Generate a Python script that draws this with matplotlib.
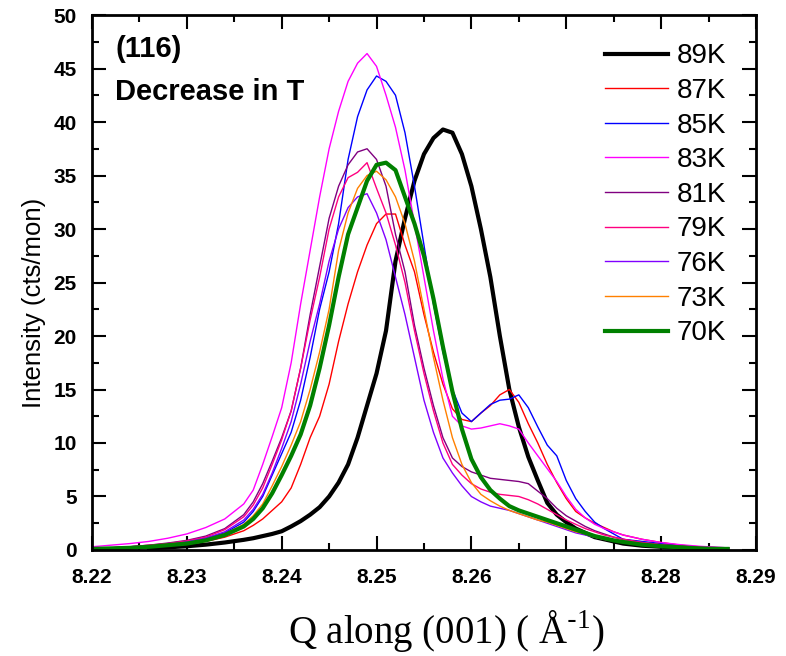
import numpy as np
import matplotlib
matplotlib.use('Agg')
import matplotlib.pyplot as plt
from matplotlib import font_manager
from matplotlib.ticker import MultipleLocator, FormatStrFormatter

# Q grid (Å^-1), shared by all scans
q = [8.220, 8.222, 8.224, 8.226, 8.228, 8.230, 8.232, 8.234,
     8.236, 8.237, 8.238, 8.239, 8.240, 8.241, 8.242, 8.243, 8.244,
     8.245, 8.246, 8.247, 8.248, 8.249, 8.250, 8.251, 8.252, 8.253,
     8.254, 8.255, 8.256, 8.257, 8.258, 8.259, 8.260, 8.261, 8.262,
     8.263, 8.264, 8.265, 8.266, 8.267, 8.268, 8.269, 8.270, 8.271,
     8.272, 8.273, 8.274, 8.275, 8.276, 8.278, 8.280, 8.282, 8.284,
     8.286, 8.287]

nan = np.nan
i_89K = [nan, nan, nan, 0.15, 0.25, 0.35, 0.5, 0.7,
         0.95, 1.1, 1.3, 1.5, 1.75, 2.2, 2.7, 3.3, 4.0,
         5.0, 6.3, 8.0, 10.5, 13.5, 16.5, 20.5, 27.0, 31.0,
         34.5, 37.0, 38.5, 39.3, 39.0, 37.0, 34.0, 30.0, 25.5,
         20.0, 15.0, 11.5, 8.7, 6.5, 4.4, 3.3, 2.6, 2.0,
         1.6, 1.2, 1.0, 0.8, 0.6, 0.4, 0.3, 0.2, 0.15,
         0.1, 0.08]
i_87K = [0.1, 0.15, 0.2, 0.3, 0.4, 0.55, 0.8, 1.2,
         1.8, 2.3, 2.9, 3.7, 4.5, 5.8, 8.0, 10.5, 12.5,
         15.5, 19.5, 23.0, 26.0, 28.5, 30.5, 31.4, 31.4, 28.5,
         26.0, 22.0, 18.5, 15.5, 13.2, 12.2, 12.0, 12.8, 13.5,
         14.5, 15.0, 13.8, 11.8, 10.0, 8.0, 6.3, 4.8, 3.6,
         3.0, 2.5, 2.1, 1.7, 1.4, 1.0, 0.7, 0.45, 0.3,
         0.2, 0.15]
i_85K = [0.15, 0.2, 0.3, 0.4, 0.6, 0.8, 1.1, 1.6,
         2.6, 3.6, 5.0, 7.0, 9.0, 11.0, 14.0, 18.0, 22.5,
         26.0, 30.5, 36.5, 40.5, 43.0, 44.3, 43.8, 42.5, 39.0,
         34.0, 28.5, 23.0, 18.5, 15.0, 12.8, 12.0, 12.8, 13.6,
         14.0, 14.1, 14.5, 13.3, 11.5, 9.8, 8.8, 6.5, 4.8,
         3.6, 2.6, 2.0, 1.5, 1.0, 0.8, 0.6, 0.4, 0.25,
         0.15, 0.1]
i_83K = [0.3, 0.45, 0.6, 0.8, 1.1, 1.5, 2.1, 2.9,
         4.3, 5.6, 8.0, 10.6, 13.3, 17.5, 23.0, 28.0, 33.0,
         37.5, 41.0, 43.8, 45.5, 46.4, 45.2, 42.5, 39.5, 35.5,
         30.5, 25.5, 20.5, 16.0, 12.5, 11.6, 11.3, 11.4, 11.6,
         11.8, 11.6, 11.3, 10.0, 8.8, 7.6, 6.4, 5.0, 3.8,
         3.0, 2.4, 2.0, 1.7, 1.4, 1.0, 0.7, 0.5, 0.35,
         0.25, 0.2]
i_81K = [0.15, 0.2, 0.3, 0.45, 0.65, 0.9, 1.3, 2.0,
         3.3, 4.5, 6.2, 8.3, 10.5, 13.0, 17.0, 22.0, 26.5,
         31.0, 34.0, 36.0, 37.2, 37.5, 36.5, 34.0, 29.5, 26.0,
         21.0, 17.0, 13.5, 10.5, 8.6, 7.8, 7.3, 7.0, 6.7,
         6.6, 6.5, 6.4, 6.2, 5.5, 4.8, 3.9, 3.2, 2.7,
         2.2, 1.8, 1.5, 1.2, 1.0, 0.7, 0.5, 0.35, 0.25,
         0.15, 0.1]
i_79K = [0.15, 0.2, 0.3, 0.45, 0.6, 0.85, 1.2, 1.9,
         3.1, 4.2, 5.8, 8.0, 10.3, 13.0, 17.0, 21.5, 25.5,
         30.0, 33.0, 34.8, 35.3, 36.2, 33.8, 31.5, 28.5, 25.0,
         20.5, 16.5, 13.0, 10.0, 8.0, 7.0, 6.2, 5.7, 5.4,
         5.2, 5.1, 5.0, 4.7, 4.3, 3.8, 3.3, 2.8, 2.4,
         2.0, 1.7, 1.4, 1.2, 1.0, 0.7, 0.5, 0.35, 0.25,
         0.15, 0.1]
i_76K = [0.1, 0.15, 0.25, 0.35, 0.5, 0.75, 1.1, 1.7,
         2.8, 3.8, 5.2, 7.2, 9.5, 12.0, 15.5, 19.5, 23.0,
         27.0, 30.0, 32.0, 33.0, 33.3, 31.5, 29.0, 25.5, 22.0,
         18.0, 14.0, 11.0, 8.6, 7.2, 6.0, 5.0, 4.5, 4.1,
         3.9, 3.7, 3.4, 3.1, 2.8, 2.5, 2.2, 1.9, 1.6,
         1.4, 1.2, 1.0, 0.85, 0.7, 0.5, 0.35, 0.25, 0.2,
         0.1, 0.1]
i_73K = [0.1, 0.15, 0.2, 0.3, 0.45, 0.65, 0.95, 1.5,
         2.4, 3.2, 4.3, 6.0, 7.8, 9.8, 12.0, 15.0, 18.5,
         22.5, 28.0, 31.5, 33.8, 35.0, 35.4, 34.6, 33.0, 30.5,
         27.0, 22.5, 18.0, 14.0, 10.5, 8.0, 6.3, 5.2, 4.6,
         4.1, 3.7, 3.4, 3.1, 2.8, 2.6, 2.3, 2.0, 1.7,
         1.5, 1.2, 1.0, 0.85, 0.7, 0.5, 0.35, 0.25, 0.15,
         0.1, 0.1]
i_70K = [0.1, 0.15, 0.2, 0.3, 0.45, 0.6, 0.9, 1.4,
         2.2, 2.9, 3.9, 5.3, 7.0, 8.8, 10.8, 13.5, 17.0,
         21.0, 25.5, 29.5, 32.0, 34.5, 36.0, 36.2, 35.5, 33.0,
         30.5, 27.5, 23.5, 19.0, 14.8, 11.3, 8.5, 6.8, 5.6,
         4.8, 4.1, 3.7, 3.4, 3.1, 2.8, 2.5, 2.2, 1.9,
         1.6, 1.3, 1.1, 0.9, 0.75, 0.5, 0.35, 0.25, 0.15,
         0.1, 0.1]

labels = ['89K', '87K', '85K', '83K', '81K', '79K', '76K', '73K', '70K']
series = [i_89K, i_87K, i_85K, i_83K, i_81K, i_79K, i_76K, i_73K, i_70K]
colors = ['black', '#FF0000', '#0000FF', '#FF00FF', '#800080',
          '#FF0080', '#8000FF', '#FF8000', '#008000']
widths = [3, 1, 1, 1, 1, 1, 1, 1, 3]

# narrow bold face for the x tick labels if it is installed
names = {f.name for f in font_manager.fontManager.ttflist}
narrow = 'Liberation Sans Narrow' if 'Liberation Sans Narrow' in names else 'Liberation Sans'

fig = plt.figure(figsize=(7.86, 6.56), dpi=100)
ax = fig.add_axes([0.117, 0.1616, 0.8448, 0.8155])

for lab, y, c, w in zip(labels, series, colors, widths):
    ax.plot(q, y, color=c, lw=w, label=lab)

ax.set_xlim(8.22, 8.29)
ax.set_ylim(0, 50)
ax.xaxis.set_major_locator(MultipleLocator(0.01))
ax.xaxis.set_minor_locator(MultipleLocator(0.005))
ax.yaxis.set_major_locator(MultipleLocator(5))
ax.yaxis.set_minor_locator(MultipleLocator(2.5))
ax.xaxis.set_major_formatter(FormatStrFormatter('%.2f'))
ax.tick_params(which='both', direction='in', top=True, right=True, width=1.5)
ax.tick_params(which='major', length=10)
ax.tick_params(which='minor', length=5)
ax.tick_params(axis='x', which='major', pad=13)
ax.tick_params(axis='y', which='major', pad=11)
for lbl in ax.get_xticklabels():
    lbl.set_fontfamily(narrow)
    lbl.set_fontweight('bold')
    lbl.set_fontsize(15)
for lbl in ax.get_yticklabels():
    lbl.set_fontfamily('Liberation Sans')
    lbl.set_fontweight('bold')
    lbl.set_fontsize(15)
for s in ax.spines.values():
    s.set_linewidth(2)

ax.set_ylabel('Intensity (cts/mon)', fontsize=18.5, family='Liberation Sans')
ax.yaxis.set_label_coords(-0.069, 0.462)
ax.set_xlabel(r'Q along (001) ( Å$^{\mathregular{\text{-}1}}$)', fontsize=28,
              family='Liberation Serif')
ax.xaxis.set_label_coords(0.533, -0.108)

ax.text(0.035, 0.962, '(116)', transform=ax.transAxes,
        fontsize=21, fontweight='bold', family='Liberation Sans',
        va='top', ha='left')
ax.text(0.035, 0.882, 'Decrease in T', transform=ax.transAxes,
        fontsize=21, fontweight='bold', family='Liberation Sans',
        va='top', ha='left')

ax.legend(loc='upper left', frameon=False,
          prop={'family': 'Liberation Sans', 'size': 20},
          handlelength=2.27, handletextpad=0.3, labelspacing=0.31,
          borderpad=0, borderaxespad=0,
          bbox_to_anchor=(0.7726, 0.947))

fig.savefig('out.png', dpi=100)
